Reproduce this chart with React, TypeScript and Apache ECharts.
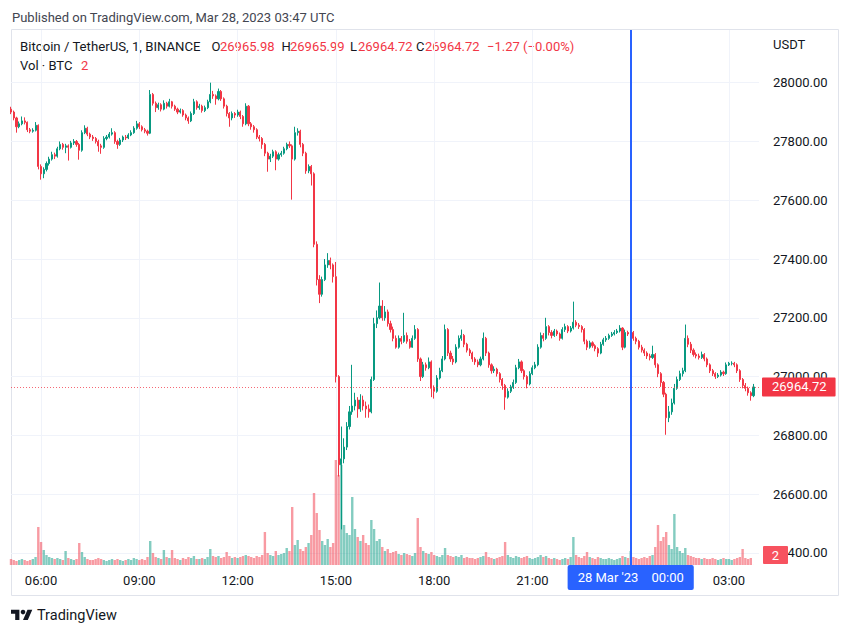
import React, { useEffect, useRef } from 'react';
import * as echarts from 'echarts';

const FONT = 'Roboto, "Noto Sans", sans-serif';
const UP = '#089981';
const DOWN = '#f23645';
const TEXT = '#131722';

// 5-minute candles, first at 05:05 (Mar 27) to 03:45 (Mar 28), plus two empty slots of right margin
const START_MIN = 5 * 60 + 5;
const STEP_MIN = 5;
const CATEGORY_COUNT = 275;
const timeLabels = ['06:00', '09:00', '12:00', '15:00', '18:00', '21:00', '03:00'];
const gridTimes = ['06:00', '09:00', '12:00', '15:00', '18:00', '21:00', '00:00', '03:00'];
const crosshairTime = '00:00';
const crosshairDate = "28 Mar '23";

const firstOpen = 27910;
const closes = [
  27900, 27880, 27850, 27860, 27870, 27865, 27840, 27835, 27838, 27855,
  27715, 27690, 27705, 27725, 27740, 27755, 27750, 27775, 27790, 27780,
  27785, 27780, 27795, 27800, 27790, 27770, 27830, 27845, 27825, 27815,
  27810, 27800, 27785, 27780, 27810, 27815, 27825, 27830, 27800, 27790,
  27805, 27815, 27812, 27822, 27830, 27845, 27860, 27850, 27840, 27835,
  27828, 27960, 27930, 27915, 27925, 27910, 27930, 27920, 27935, 27920,
  27910, 27900, 27905, 27890, 27880, 27870, 27895, 27935, 27915, 27920,
  27905, 27915, 27935, 27960, 27955, 27945, 27970, 27945, 27920, 27895,
  27880, 27895, 27890, 27900, 27885, 27860, 27920, 27860, 27850, 27840,
  27815, 27810, 27790, 27760, 27740, 27750, 27765, 27740, 27755, 27760,
  27775, 27790, 27785, 27740, 27830, 27835, 27790, 27760, 27700, 27715,
  27690, 27450, 27330, 27280, 27330, 27380, 27395, 27380, 27340, 27000,
  26700, 26720, 26760, 26830, 26880, 26900, 26920, 26890, 26920, 26900,
  26890, 26880, 26990, 27180, 27200, 27240, 27200, 27220, 27180, 27160,
  27130, 27100, 27130, 27120, 27140, 27120, 27100, 27130, 27160, 27060,
  27000, 27040, 27030, 27050, 26960, 26950, 26995, 27020, 27060, 27160,
  27080, 27060, 27050, 27100, 27130, 27140, 27110, 27090, 27080, 27060,
  27050, 27040, 27060, 27130, 27080, 27040, 27020, 27025, 27010, 26990,
  26970, 26930, 26950, 26965, 26980, 27030, 27050, 27020, 27000, 26975,
  27010, 27030, 27040, 27100, 27140, 27130, 27170, 27150, 27140, 27155,
  27145, 27130, 27160, 27170, 27155, 27165, 27185, 27175, 27170, 27160,
  27120, 27100, 27115, 27105, 27095, 27080, 27110, 27125, 27130, 27140,
  27145, 27150, 27155, 27165, 27100, 27150, 27145, 27150, 27130, 27120,
  27100, 27090, 27080, 27070, 27065, 27075, 27040, 27010, 26980, 26940,
  26860, 26880, 26910, 26960, 26990, 27010, 27020, 27130, 27110, 27090,
  27075, 27070, 27065, 27075, 27060, 27040, 27020, 27010, 27000, 27005,
  27015, 27010, 27040, 27045, 27045, 27040, 27020, 26990, 26970, 26960,
  26945, 26935, 26964.72,
];
const highs = [
  27918, 27905, 27884, 27868, 27885, 27882, 27868, 27846, 27845, 27866,
  27858, 27722, 27712, 27732, 27748, 27765, 27762, 27782, 27800, 27795,
  27792, 27790, 27802, 27808, 27805, 27795, 27838, 27855, 27850, 27830,
  27822, 27815, 27806, 27792, 27818, 27822, 27832, 27845, 27835, 27806,
  27812, 27820, 27822, 27828, 27838, 27852, 27870, 27866, 27855, 27846,
  27840, 27975, 27965, 27936, 27932, 27930, 27940, 27935, 27945, 27938,
  27925, 27915, 27912, 27910, 27895, 27885, 27902, 27945, 27940, 27928,
  27925, 27922, 27942, 28000, 27972, 27960, 27980, 27975, 27950, 27925,
  27900, 27902, 27900, 27908, 27905, 27890, 27930, 27924, 27866, 27856,
  27845, 27822, 27815, 27795, 27765, 27758, 27772, 27770, 27762, 27768,
  27782, 27796, 27800, 27790, 27850, 27845, 27840, 27795, 27765, 27722,
  27720, 27695, 27460, 27345, 27340, 27400, 27420, 27405, 27385, 27390,
  27005, 26830, 26790, 26845, 26900, 27040, 26945, 26930, 26940, 26935,
  26915, 26905, 27000, 27200, 27225, 27320, 27260, 27240, 27228, 27190,
  27170, 27140, 27140, 27138, 27217, 27150, 27128, 27140, 27175, 27165,
  27065, 27050, 27048, 27065, 27055, 26970, 27005, 27030, 27070, 27177,
  27165, 27088, 27070, 27110, 27140, 27160, 27145, 27115, 27096, 27085,
  27066, 27058, 27068, 27150, 27135, 27085, 27045, 27035, 27030, 27015,
  26995, 26975, 26960, 26972, 26990, 27040, 27060, 27055, 27025, 27005,
  27018, 27038, 27050, 27110, 27150, 27148, 27200, 27175, 27158, 27162,
  27160, 27150, 27168, 27180, 27175, 27172, 27255, 27192, 27182, 27175,
  27165, 27126, 27122, 27120, 27110, 27100, 27118, 27132, 27138, 27146,
  27152, 27158, 27162, 27175, 27168, 27160, 27156, 27158, 27155, 27136,
  27125, 27108, 27096, 27086, 27078, 27105, 27080, 27045, 27015, 26985,
  26945, 26900, 26925, 26975, 27000, 27020, 27030, 27177, 27140, 27118,
  27096, 27082, 27078, 27085, 27080, 27065, 27045, 27026, 27015, 27012,
  27022, 27020, 27048, 27050, 27052, 27050, 27045, 27025, 26995, 26978,
  26966, 26950, 26975,
];
const lows = [
  27893, 27872, 27830, 27845, 27855, 27858, 27832, 27828, 27830, 27834,
  27705, 27670, 27675, 27698, 27718, 27735, 27740, 27745, 27770, 27772,
  27760, 27735, 27776, 27788, 27782, 27738, 27765, 27825, 27818, 27808,
  27802, 27793, 27765, 27758, 27775, 27804, 27810, 27820, 27792, 27775,
  27785, 27798, 27805, 27808, 27818, 27826, 27840, 27842, 27834, 27828,
  27820, 27825, 27922, 27900, 27908, 27902, 27906, 27912, 27916, 27912,
  27904, 27893, 27895, 27884, 27872, 27860, 27866, 27890, 27908, 27908,
  27898, 27900, 27910, 27930, 27945, 27925, 27940, 27938, 27912, 27885,
  27850, 27872, 27880, 27884, 27876, 27850, 27855, 27852, 27840, 27830,
  27808, 27800, 27775, 27750, 27697, 27730, 27744, 27702, 27735, 27748,
  27755, 27770, 27778, 27602, 27735, 27820, 27780, 27750, 27690, 27692,
  27650, 27440, 27310, 27250, 27272, 27325, 27370, 27365, 27320, 26980,
  26660, 26480, 26705, 26750, 26820, 26870, 26885, 26860, 26880, 26885,
  26860, 26860, 26875, 26985, 27165, 27195, 27190, 27190, 27170, 27150,
  27120, 27095, 27095, 27110, 27115, 27112, 27095, 27098, 27125, 27050,
  26985, 26995, 27020, 27025, 26930, 26925, 26945, 26990, 27015, 27055,
  27070, 27050, 27040, 27045, 27095, 27122, 27100, 27082, 27070, 27050,
  27040, 27032, 27035, 27055, 27070, 27030, 27010, 27012, 27000, 26980,
  26955, 26887, 26925, 26944, 26958, 26975, 27025, 27012, 26990, 26960,
  26970, 27005, 27025, 27035, 27095, 27120, 27125, 27140, 27130, 27135,
  27138, 27122, 27126, 27152, 27148, 27150, 27160, 27168, 27162, 27150,
  27110, 27090, 27095, 27098, 27086, 27067, 27076, 27105, 27118, 27125,
  27135, 27140, 27145, 27150, 27090, 27096, 27138, 27140, 27122, 27110,
  27092, 27082, 27070, 27060, 27055, 27060, 27030, 26998, 26965, 26930,
  26802, 26845, 26870, 26905, 26955, 26985, 27000, 27015, 27100, 27080,
  27068, 27062, 27058, 27060, 27052, 27032, 27012, 27002, 26992, 26995,
  27000, 27002, 27006, 27036, 27038, 27032, 27012, 26982, 26960, 26950,
  26935, 26918, 26930,
];
const volumes = [
  300, 250, 200, 250, 300, 250, 200, 250, 300, 400,
  1900, 1150, 750, 500, 400, 350, 300, 350, 300, 250,
  700, 350, 300, 250, 300, 1100, 650, 400, 300, 250,
  250, 300, 350, 300, 250, 200, 250, 300, 250, 300,
  250, 200, 250, 300, 250, 350, 300, 250, 300, 250,
  400, 1200, 600, 400, 350, 300, 750, 400, 350, 750,
  350, 300, 250, 350, 300, 400, 350, 450, 300, 300,
  350, 300, 400, 800, 450, 400, 450, 350, 400, 650,
  450, 350, 400, 350, 400, 450, 500, 450, 400, 350,
  450, 400, 500, 1650, 600, 500, 450, 700, 500, 550,
  600, 850, 700, 2900, 1000, 1250, 800, 700, 900, 1100,
  1500, 3600, 2600, 1750, 1200, 1000, 1300, 900, 1100, 5250,
  4500, 5000, 2000, 1600, 1500, 3400, 1800, 1400, 1200, 1500,
  1100, 1000, 2250, 1800, 1200, 1300, 900, 700, 800, 600,
  650, 700, 550, 500, 600, 550, 500, 450, 600, 2350,
  900, 700, 600, 550, 650, 500, 450, 400, 500, 850,
  500, 450, 400, 450, 400, 500, 350, 400, 350, 350,
  300, 350, 400, 450, 650, 400, 350, 300, 350, 400,
  450, 1150, 500, 400, 350, 450, 400, 350, 400, 450,
  350, 300, 350, 400, 500, 400, 450, 350, 300, 350,
  300, 250, 300, 350, 300, 400, 1400, 500, 400, 350,
  450, 650, 400, 350, 300, 400, 350, 300, 300, 350,
  300, 250, 300, 350, 450, 400, 350, 700, 400, 350,
  300, 350, 400, 350, 450, 500, 900, 2000, 1200, 1400,
  1650, 1000, 800, 2550, 900, 700, 600, 850, 500, 450,
  400, 350, 350, 300, 350, 300, 300, 350, 300, 250,
  300, 350, 300, 300, 250, 300, 350, 400, 800, 350,
  300, 350, 2,
];

const lastPrice = 26964.72;
const lastVolume = 2;
const legendLabels = ['O', 'H', 'L', 'C'];
const legendValues = ['26965.98', '26965.99', '26964.72', '26964.72'];
const legendChange = '\u22121.27 (\u22120.00%)';

const LOGO_PATH = 'M14 22H7V11H0V4h14v18zM28 22h-8l7.5-18h8L28 22z';
try {
  echarts.graphic.registerShape('tvlogo', echarts.graphic.extendPath(LOGO_PATH, {}) as any);
} catch (e) {
  // already registered
}

function buildCategories(): string[] {
  const out: string[] = [];
  for (let i = 0; i < CATEGORY_COUNT; i++) {
    const m = (START_MIN + i * STEP_MIN) % 1440;
    out.push(String(Math.floor(m / 60)).padStart(2, '0') + ':' + String(m % 60).padStart(2, '0'));
  }
  return out;
}

export default function App() {
  const ref = useRef<HTMLDivElement>(null);
  useEffect(() => {
    if (!ref.current) return;
    const chart = echarts.init(ref.current, null, { renderer: 'svg' });
    const categories = buildCategories();
    const candleData = closes.map((c, i) => {
      const o = i === 0 ? firstOpen : closes[i - 1];
      return [o, c, lows[i], highs[i]];
    });
    const volData = volumes.map((v, i) => ({
      value: v,
      itemStyle: {
        color: candleData[i][1] >= candleData[i][0] ? 'rgba(8,153,129,0.5)' : 'rgba(242,54,69,0.5)',
      },
    }));

    const legendX = [211.5, 281.5, 350, 416];
    const legendValX = [220, 290, 358, 425];
    const txt = (x: number, y: number, text: string, fill: string, size = 13, extra: any = {}) => ({
      type: 'text',
      x,
      y,
      silent: true,
      style: { text, fill, font: `${size}px ${FONT}`, textVerticalAlign: 'middle', ...extra },
    });

    const graphic: any[] = [
      {
        type: 'rect',
        silent: true,
        shape: { x: 11.5, y: 29.5, width: 827, height: 566 },
        style: { fill: 'none', stroke: '#e0e3eb', lineWidth: 1 },
      },
      txt(12, 17, 'Published on TradingView.com, Mar 28, 2023 03:47 UTC', '#434651'),
      txt(20, 46.5, 'Bitcoin / TetherUS, 1, BINANCE', TEXT, 13.2),
      ...legendLabels.map((l, i) => txt(legendX[i], 46.5, l, TEXT)),
      ...legendValues.map((v, i) => txt(legendValX[i], 46.5, v, DOWN)),
      txt(487, 46.5, legendChange, DOWN),
      txt(20, 65, 'Vol \u00b7 BTC', TEXT),
      txt(81, 65, String(lastVolume), DOWN),
      txt(773, 44, 'USDT', TEXT),
      {
        type: 'rect',
        silent: true,
        z: 10,
        shape: { x: 763, y: 546, width: 25, height: 18, r: 1 },
        style: { fill: '#f7525f' },
      },
      {
        type: 'text',
        silent: true,
        z: 11,
        x: 775.5,
        y: 555.5,
        style: { text: String(lastVolume), fill: '#fff', font: `13px ${FONT}`, textAlign: 'center', textVerticalAlign: 'middle' },
      },
      {
        type: 'tvlogo',
        silent: true,
        x: 11,
        y: 607.6,
        scaleX: 0.6,
        scaleY: 0.56,
        style: { fill: TEXT },
      },
      { type: 'circle', silent: true, shape: { cx: 11 + 20 * 0.6, cy: 607.6 + 8 * 0.56, r: 2.3 }, style: { fill: TEXT } },
      txt(37, 615, 'TradingView', TEXT, 14.5),
    ];

    const option: any = {
      animation: false,
      grid: [
        { left: 11, right: 91, top: 23.9, bottom: 22.3 },
        { left: 11, right: 91, top: 30, bottom: 69 },
      ],
      xAxis: [
        { type: 'category', gridIndex: 0, data: categories, boundaryGap: false, show: false },
        {
          type: 'category',
          gridIndex: 1,
          data: categories,
          boundaryGap: false,
          axisLine: { show: false },
          axisTick: { show: false },
          axisLabel: {
            interval: (_i: number, v: string) => timeLabels.includes(v),
            color: TEXT,
            fontSize: 13,
            fontFamily: FONT,
            margin: 9,
          },
          splitLine: {
            show: true,
            interval: (_i: number, v: string) => gridTimes.includes(v),
            lineStyle: { color: '#f0f3fa', width: 1 },
          },
        },
      ],
      yAxis: [
        {
          type: 'value',
          gridIndex: 0,
          position: 'right',
          min: 26200,
          max: 28200,
          interval: 200,
          axisLine: { show: false },
          axisTick: { show: false },
          axisLabel: {
            showMinLabel: false,
            showMaxLabel: false,
            formatter: (v: number) => v.toFixed(2),
            color: TEXT,
            fontSize: 13,
            fontFamily: FONT,
            margin: 14,
          },
          splitLine: { show: true, showMinLine: false, showMaxLine: false, lineStyle: { color: '#f0f3fa', width: 1 } },
        },
        { type: 'value', gridIndex: 1, min: 0, max: 26750, show: false },
      ],
      series: [
        {
          type: 'bar',
          name: 'Vol',
          xAxisIndex: 1,
          yAxisIndex: 1,
          data: volData,
          barWidth: 2.4,
          silent: true,
          markLine: {
            symbol: 'none',
            silent: true,
            data: [{ xAxis: crosshairTime }],
            lineStyle: { color: '#2962ff', width: 2, type: 'solid' },
            label: {
              show: true,
              position: 'start',
              distance: 0,
              formatter: `{d|${crosshairDate}}{t|${crosshairTime}}`,
              backgroundColor: '#2962ff',
              borderRadius: 2,
              padding: [6, 10, 6, 10],
              color: '#fff',
              fontSize: 13,
              fontFamily: FONT,
              rich: {
                d: { color: '#fff', fontSize: 13, fontFamily: FONT },
                t: { color: '#fff', fontSize: 13, fontFamily: FONT, padding: [0, 0, 0, 13] },
              },
            },
          },
        },
        {
          type: 'candlestick',
          name: 'BTCUSDT',
          xAxisIndex: 0,
          yAxisIndex: 0,
          data: candleData,
          barWidth: 1.6,
          silent: true,
          itemStyle: {
            color: UP,
            color0: DOWN,
            borderColor: UP,
            borderColor0: DOWN,
            borderWidth: 1,
          },
          markLine: {
            symbol: 'none',
            silent: true,
            data: [{ yAxis: lastPrice }],
            lineStyle: { color: 'rgba(242,54,69,0.75)', width: 1, type: [1, 2] },
            label: {
              show: true,
              position: 'end',
              distance: 3,
              formatter: lastPrice.toFixed(2),
              color: '#fff',
              backgroundColor: DOWN,
              borderRadius: 1,
              padding: [2, 9, 2, 10],
              lineHeight: 15,
              fontSize: 13,
              fontFamily: FONT,
            },
          },
        },
      ],
      graphic,
    };
    chart.setOption(option);
    return () => chart.dispose();
  }, []);
  return <div ref={ref} style={{ position: 'absolute', left: 0, top: 0, width: 850, height: 634 }} />;
}
